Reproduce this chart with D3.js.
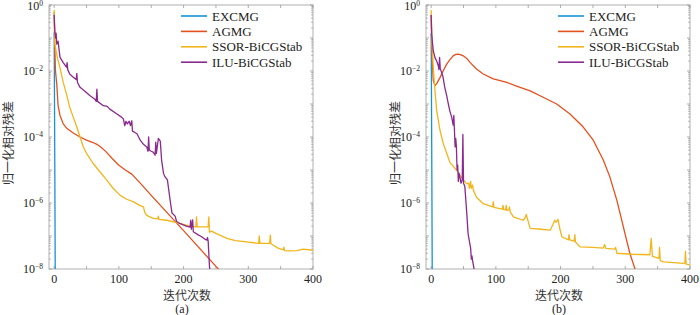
<!DOCTYPE html>
<html lang="en">
<head>
<meta charset="UTF-8" />
<title>Residual convergence</title>
<script src="https://d3js.org/d3.v7.min.js"></script>
<style>
    body { margin: 0; background: #fff; }
    .tick-label { font-family: "Liberation Serif", "DejaVu Serif", serif; font-size: 12px; fill: #222; }
    .cn-label { font-family: "Noto Sans CJK SC", sans-serif; font-size: 12px; fill: #333; }
    .legend-text { font-family: "Liberation Serif", serif; font-size: 13px; fill: #222; }
    .frame { fill: none; stroke: #b0b0b0; stroke-width: 1; }
    .tk { stroke: #999; stroke-width: 0.8; }
    .series { fill: none; stroke-width: 1.3; stroke-linejoin: round; }
</style>
</head>
<body>
<div id="chart"></div>
<script>
// series names and colours
var seriesNames = ["EXCMG", "AGMG", "SSOR-BiCGStab", "ILU-BiCGStab"];
var seriesColors = ["#1593d6", "#e4501c", "#f2b51c", "#8a2a8e"];

var xTicks = [0, 50, 100, 150, 200, 250, 300, 350, 400];
var xTickLabels = [0, 100, 200, 300, 400];
var yExpLabels = [0, -2, -4, -6, -8];

// panel (a): [iteration, normalised residual]
var excmgA = [[0, 0.15], [1, 1e-5], [2, 1e-10]];
var agmgA = [[0, 0.6], [1, 0.05], [2, 0.01], [4, 0.004], [6, 0.0009], [9, 0.00045], [14, 0.00025],
    [20, 0.00018], [30, 0.00013], [40, 0.0001], [50, 0.00008], [60, 0.000068], [66, 0.00006],
    [72, 0.00005], [80, 0.000036], [90, 0.000022], [100, 0.000014], [110, 0.00001], [120, 0.0000075],
    [133, 0.000004], [150, 1.7e-6], [200, 1.45e-7], [250, 1.2e-8], [260, 7.5e-9]];
var ssorA = [[0, 0.7], [1, 0.065], [5, 0.025], [9, 0.0125], [14, 0.0045], [19, 0.002], [24, 0.0008],
    [29.5, 0.0004], [35, 0.0002], [40, 0.0001], [45, 0.00005], [50, 0.000032], [60, 0.000016],
    [71, 0.0000087], [81, 0.000005], [91, 0.0000028], [102, 0.0000017], [112, 0.0000013],
    [122, 0.0000011], [132, 8.5e-7], [138, 7.6e-7], [140, 5.2e-7], [143, 4.2e-7], [153, 3.4e-7],
    [160, 3.3e-7], [161, 4e-7], [162, 3.2e-7], [174, 3e-7], [194, 2.4e-7], [210, 2.0e-7],
    [219, 1.9e-7], [220, 3.8e-7], [221, 1.9e-7], [238, 1.9e-7], [239, 3.8e-7], [240, 1.3e-7],
    [243, 1.4e-7], [250, 1.2e-7], [267, 8.5e-8], [280, 7.2e-8], [297, 6.6e-8], [316, 6e-8],
    [317, 1.0e-7], [318, 6e-8], [333, 6e-8], [334, 1.07e-7], [335, 5.8e-8], [346, 4.3e-8],
    [354, 3.8e-8], [355, 4.6e-8], [356, 3.6e-8], [364, 3.55e-8], [375, 3.6e-8], [385, 4e-8],
    [400, 3.7e-8]];
var iluA = [[0, 0.5], [1, 0.16], [2, 0.1], [3, 0.14], [4, 0.065], [6, 0.08], [9, 0.026],
    [14, 0.018], [19, 0.013], [20, 0.018], [21, 0.011], [24, 0.0081], [30, 0.0064], [34, 0.0055],
    [35, 0.0085], [36, 0.0045], [40, 0.0032], [48, 0.0024], [55, 0.0018], [63, 0.0014],
    [65, 0.0012], [66, 0.0028], [67, 0.0012], [76, 0.00089], [82, 0.00085], [86, 0.0007],
    [97, 0.0005], [104, 0.0004], [107, 0.00035], [109, 0.00022], [111, 0.0003], [113, 0.00025],
    [116, 0.0003], [118, 0.00022], [120, 0.00031], [121, 0.00015], [124, 0.00014], [128, 0.000125],
    [133, 0.00008], [138, 0.00006], [143, 0.00005], [145, 0.000037], [146, 0.0001], [147, 0.00004],
    [150, 0.000037], [153, 0.000035], [156, 0.000028], [157, 0.00007], [158, 0.000032],
    [161, 0.00009], [164, 0.000075], [166, 0.00002], [169, 0.0000079], [171, 0.0000063],
    [175, 0.000005], [179, 0.0000013], [182, 5e-7], [187, 4e-7], [189, 2.8e-7], [194, 2.4e-7],
    [204, 2e-7], [210, 1.85e-7], [211, 3e-7], [212, 1.6e-7], [214, 3.1e-7], [215, 1.35e-7],
    [222, 1.1e-7], [228, 9.5e-8], [233, 8e-8], [236, 7.5e-8], [237, 9e-8], [238, 7e-8],
    [240, 1.2e-8], [242, 5e-9]];

// panel (b)
var excmgB = [[0, 0.14], [1, 1e-5], [2, 1e-10]];
var agmgB = [[0, 0.5], [1, 0.04], [3.2, 0.0051], [5.9, 0.0036], [9, 0.0043], [13.6, 0.0063],
    [19, 0.0105], [24, 0.0162], [29, 0.022], [34, 0.0288], [38, 0.032], [42, 0.0324], [46, 0.031],
    [49.6, 0.0288], [55, 0.024], [60, 0.0182], [70, 0.0115], [80.5, 0.0081], [96, 0.0058],
    [117, 0.0045], [132, 0.0035], [153, 0.0025], [173, 0.0016], [194, 0.001], [214.5, 0.0005],
    [235, 0.0002], [250.5, 0.00008], [266, 0.00002], [276, 0.0000063], [287, 0.0000012],
    [297, 1.9e-7], [307, 3e-8], [315, 1e-8], [320, 4e-9]];
var ssorB = [[0, 0.7], [0.8, 0.13], [3.2, 0.013], [5.9, 0.0025], [8.5, 0.00063], [13.6, 0.00016],
    [18.7, 0.000063], [24, 0.000032], [29, 0.000017], [39, 0.00001], [49.6, 0.000005],
    [55, 0.0000038], [58, 0.000004], [59, 0.0000028], [60, 0.0000032], [61, 0.0000045],
    [62, 0.0000028], [64, 0.0000035], [65, 0.0000025], [70, 0.0000015], [80.5, 9.5e-7],
    [95, 7.6e-7], [96, 1.1e-6], [97, 7.4e-7], [110, 6.5e-7], [111, 8.5e-7], [112, 6.3e-7],
    [115, 6.2e-7], [116, 8.5e-7], [117, 6e-7], [120, 6.2e-7], [121, 7.6e-7], [122, 5.5e-7],
    [127, 3.8e-7], [142, 3e-7], [145, 3.5e-7], [147, 4.5e-7], [149, 3.2e-7], [153, 1.7e-7],
    [170, 1.6e-7], [184, 1.5e-7], [188, 2.2e-7], [191, 3e-7], [193, 2.6e-7], [196, 3.2e-7],
    [199, 1.6e-7], [202, 9.5e-8], [212, 7.6e-8], [213, 1.1e-7], [214, 7.6e-8], [221, 7e-8],
    [222, 1.1e-7], [223, 6.6e-8], [230, 4.7e-8], [250, 4.5e-8], [266, 4.3e-8], [268, 5.5e-8],
    [270, 4.2e-8], [284, 4e-8], [285, 4.5e-8], [287, 3e-8], [310, 2.8e-8], [338, 2.7e-8],
    [340, 8.5e-8], [342, 2.4e-8], [352, 2.1e-8], [353, 4.5e-8], [354, 1.8e-8], [359, 1.65e-8],
    [375, 1.55e-8], [390, 1.48e-8], [392, 1.5e-8], [393, 3.4e-8], [394, 1.4e-8], [401, 1.32e-8]];
var iluB = [[0, 0.5], [0.8, 0.13], [3.2, 0.041], [6, 0.025], [8.5, 0.02], [11, 0.0145],
    [12, 0.011], [13, 0.026], [14, 0.012], [16, 0.0091], [18, 0.0071], [21, 0.0032], [24, 0.0018],
    [26.5, 0.001], [29, 0.0006], [31.7, 0.0004], [34, 0.00023], [35, 0.00045], [36, 0.00015],
    [37, 0.00005], [38, 0.00009], [39, 0.00005], [40, 0.00001], [41, 0.000014], [42, 0.0000045],
    [43, 0.000008], [44.5, 0.000006], [46, 0.000004], [48, 0.000005], [49, 0.00012],
    [50, 0.000004], [52, 0.0000032], [55, 5e-7], [57, 1.2e-7], [59, 7e-8], [61, 4.3e-8],
    [62, 2e-8], [63, 2.5e-8], [64, 1.8e-8], [66.7, 9e-9], [68, 5e-9]];

var panels = [
    { x0: 49, tag: "(a)", yTitleDx: -42, xTitleDx: 6, tagDx: 1, series: [excmgA, agmgA, ssorA, iluA] },
    { x0: 426, tag: "(b)", yTitleDx: -32, xTitleDx: 1, tagDx: 1, series: [excmgB, agmgB, ssorB, iluB] }
];

var plotW = 264, plotTop = 5, plotH = 264;

var svg = d3.select("#chart").append("svg")
    .attr("width", 700).attr("height", 315);

panels.forEach(function(p, pi) {
    var g = svg.append("g").attr("transform", "translate(" + p.x0 + "," + plotTop + ")");

    var xScale = d3.scaleLinear().domain([-8, 400]).range([0, plotW]);
    var yScale = d3.scaleLog().domain([1e-8, 1]).range([plotH, 0]);

    var clipId = "clip" + pi;
    g.append("clipPath").attr("id", clipId)
        .append("rect").attr("width", plotW).attr("height", plotH);

    // frame
    g.append("rect").attr("class", "frame").attr("width", plotW).attr("height", plotH);

    // x ticks, bottom and top
    xTicks.forEach(function(t) {
        var x = xScale(t);
        g.append("line").attr("class", "tk").attr("x1", x).attr("x2", x).attr("y1", plotH).attr("y2", plotH - 3);
        g.append("line").attr("class", "tk").attr("x1", x).attr("x2", x).attr("y1", 0).attr("y2", 3);
    });
    xTickLabels.forEach(function(t) {
        g.append("text").attr("class", "tick-label")
            .attr("x", xScale(t)).attr("y", plotH + 14)
            .attr("text-anchor", "middle").text(t);
    });

    // y ticks: decades and minor
    for (var e = -8; e <= 0; e++) {
        var yv = yScale(Math.pow(10, e));
        g.append("line").attr("class", "tk").attr("x1", 0).attr("x2", 3).attr("y1", yv).attr("y2", yv);
        g.append("line").attr("class", "tk").attr("x1", plotW).attr("x2", plotW - 3).attr("y1", yv).attr("y2", yv);
        if (e < 0) {
            for (var m = 2; m <= 9; m++) {
                var ym = yScale(m * Math.pow(10, e));
                g.append("line").attr("class", "tk").attr("x1", 0).attr("x2", 1.8).attr("y1", ym).attr("y2", ym);
                g.append("line").attr("class", "tk").attr("x1", plotW).attr("x2", plotW - 1.8).attr("y1", ym).attr("y2", ym);
            }
        }
    }
    yExpLabels.forEach(function(e) {
        var t = g.append("text").attr("class", "tick-label")
            .attr("x", -6).attr("y", yScale(Math.pow(10, e)) + (e === 0 ? 5 : 4))
            .attr("text-anchor", "end");
        t.append("tspan").text("10");
        t.append("tspan").attr("dy", -4).attr("font-size", 7.5).text(e === 0 ? "0" : "\u2212" + (-e));
    });

    // lines
    var line = d3.line()
        .x(function(d) { return xScale(d[0]); })
        .y(function(d) { return yScale(d[1]); });

    var lines = g.append("g").attr("clip-path", "url(#" + clipId + ")");
    // draw order: EXCMG, AGMG, SSOR, ILU
    p.series.forEach(function(s, i) {
        lines.append("path")
            .datum(s)
            .attr("class", "series")
            .attr("stroke", seriesColors[i])
            .attr("stroke-width", i === 0 ? 2 : 1.3)
            .attr("d", line);
    });

    // legend
    var lg = g.append("g").attr("transform", "translate(" + (plotW - 132) + ",11)");
    seriesNames.forEach(function(name, i) {
        var yy = i * 15.4;
        lg.append("line").attr("x1", 0).attr("x2", 26).attr("y1", yy).attr("y2", yy)
            .attr("stroke", seriesColors[i]).attr("stroke-width", 1.6);
        lg.append("text").attr("class", "legend-text")
            .attr("x", 31).attr("y", yy + 4.5).text(name);
    });

    // axis titles
    g.append("text").attr("class", "cn-label")
        .attr("transform", "translate(" + p.yTitleDx + "," + (plotH / 2 + 6) + ") rotate(-90)")
        .attr("text-anchor", "middle").attr("dominant-baseline", "central").text("归一化相对残差");
    g.append("text").attr("class", "cn-label")
        .attr("x", plotW / 2 + p.xTitleDx).attr("y", plotH + 31)
        .attr("text-anchor", "middle").text("迭代次数");
    g.append("text").attr("class", "tick-label")
        .attr("x", plotW / 2 + p.tagDx).attr("y", plotH + 44)
        .attr("text-anchor", "middle").text(p.tag);
});
</script>
</body>
</html>
